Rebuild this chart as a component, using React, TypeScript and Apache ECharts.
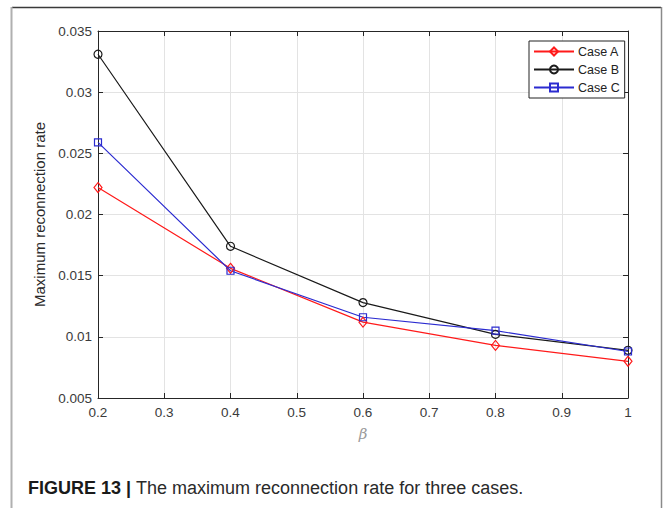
import React, { useEffect, useRef } from "react";
import * as echarts from "echarts";

const beta = [0.2, 0.4, 0.6, 0.8, 1.0];
const caseA = [0.0222, 0.0156, 0.0112, 0.0093, 0.008];
const caseB = [0.0331, 0.0174, 0.0128, 0.0102, 0.0089];
const caseC = [0.0259, 0.0154, 0.0116, 0.0105, 0.0088];
const seriesNames = ["Case A", "Case B", "Case C"];
const caption = "The maximum reconnection rate for three cases.";

const fmt = (v: number) => String(parseFloat(v.toFixed(3)));

export default function App() {
  const ref = useRef<HTMLDivElement>(null);
  useEffect(() => {
    if (!ref.current) return;
    const chart = echarts.init(ref.current, null, { renderer: "svg" });
    const axisColor = "#262626";
    const pair = (ys: number[]) => beta.map((b, i) => [b, ys[i]]);
    const mkSeries = (name: string, ys: number[], color: string, symbol: string, size: any) => ({
      name,
      type: "line",
      data: pair(ys),
      symbol,
      symbolSize: size,
      showAllSymbol: true,
      lineStyle: { color, width: 1.2 },
      itemStyle: { color: "rgba(255,255,255,0)", borderColor: color, borderWidth: 1.2 },
      emphasis: { disabled: true },
      z: 3,
    });
    chart.setOption({
      animation: false,
      backgroundColor: "#fff",
      grid: { left: 98, right: 37, top: 31, bottom: 110, containLabel: false },
      legend: {
        orient: "vertical",
        left: 529,
        top: 41,
        padding: [4, 5, 4, 4],
        itemWidth: 40,
        itemHeight: 10,
        itemGap: 5,
        backgroundColor: "#fff",
        borderColor: "#222",
        borderWidth: 1,
        borderRadius: 0,
        textStyle: { fontSize: 12.5, color: "#222", fontFamily: "Liberation Sans, Arial, sans-serif", padding: [0, 0, 0, -1] },
        data: seriesNames,
        z: 10,
      },
      xAxis: [
        {
          type: "value",
          min: 0.2,
          max: 1,
          interval: 0.1,
          name: "β",
          nameLocation: "middle",
          nameGap: 28,
          nameTextStyle: { fontSize: 15, fontStyle: "italic", color: "#9a9a9a", fontFamily: "DejaVu Serif, serif" },
          axisLine: { lineStyle: { color: axisColor, width: 1 } },
          axisTick: { inside: true, length: 5, lineStyle: { color: axisColor } },
          axisLabel: { formatter: fmt, fontSize: 13.5, color: "#3a3a3a", margin: 7, fontFamily: "Liberation Sans, Arial, sans-serif" },
          splitLine: { show: true, lineStyle: { color: "#e3e3e3", width: 1 } },
        },
        {
          type: "value",
          position: "top",
          min: 0.2,
          max: 1,
          interval: 0.1,
          axisLine: { show: true, lineStyle: { color: axisColor, width: 1 } },
          axisTick: { show: true, inside: true, length: 5, lineStyle: { color: axisColor } },
          axisLabel: { show: false },
          splitLine: { show: false },
        },
      ],
      yAxis: [
        {
          type: "value",
          min: 0.005,
          max: 0.035,
          interval: 0.005,
          name: "Maximum reconnection rate",
          nameLocation: "middle",
          nameGap: 48,
          nameRotate: 90,
          nameTextStyle: { fontSize: 15, color: "#2a2a2a", fontFamily: "Liberation Sans, Arial, sans-serif" },
          axisLine: { show: true, lineStyle: { color: axisColor, width: 1 } },
          axisTick: { show: true, inside: true, length: 5, lineStyle: { color: axisColor } },
          axisLabel: { formatter: fmt, fontSize: 13.5, color: "#3a3a3a", margin: 6, fontFamily: "Liberation Sans, Arial, sans-serif" },
          splitLine: { show: true, lineStyle: { color: "#e3e3e3", width: 1 } },
        },
        {
          type: "value",
          position: "right",
          min: 0.005,
          max: 0.035,
          interval: 0.005,
          axisLine: { show: true, lineStyle: { color: axisColor, width: 1 } },
          axisTick: { show: true, inside: true, length: 5, lineStyle: { color: axisColor } },
          axisLabel: { show: false },
          splitLine: { show: false },
        },
      ],
      series: [
        mkSeries(seriesNames[0], caseA, "#ff1a1a", "diamond", [8, 10]),
        mkSeries(seriesNames[1], caseB, "#1a1a1a", "circle", 8),
        mkSeries(seriesNames[2], caseC, "#2b2bd0", "rect", 7),
      ],
      graphic: [
        { type: "line", shape: { x1: 12, y1: 7.5, x2: 661, y2: 7.5 }, style: { stroke: "#3a3a3a", lineWidth: 1.5 } },
        { type: "line", shape: { x1: 11.5, y1: 7, x2: 11.5, y2: 508 }, style: { stroke: "#b0b0b0", lineWidth: 2 } },
        { type: "line", shape: { x1: 661.5, y1: 7, x2: 661.5, y2: 508 }, style: { stroke: "#8a8a8a", lineWidth: 1.5 } },
        {
          type: "text",
          x: 28,
          y: 488,
          style: {
            text: "{b|FIGURE 13 |} {r|" + caption + "}",
            verticalAlign: "middle",
            rich: {
              b: { fontSize: 18, fontWeight: "bold", fill: "#1a1a1a", fontFamily: "Liberation Sans, Arial, sans-serif" },
              r: { fontSize: 18, fill: "#2a2a2a", fontFamily: "Liberation Sans, Arial, sans-serif" },
            },
            fontSize: 18,
          },
        },
      ],
    });
    return () => chart.dispose();
  }, []);
  return (
    <div
      ref={ref}
      style={{ position: "fixed", left: 0, top: 0, width: 665, height: 508 }}
    />
  );
}
